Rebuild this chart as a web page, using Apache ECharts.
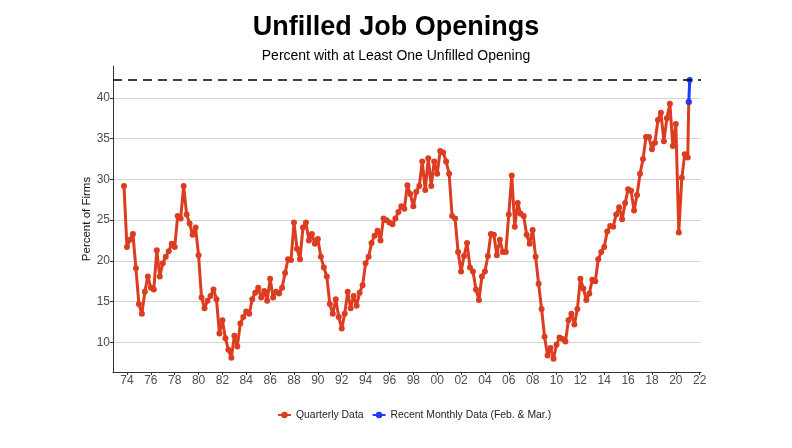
<!DOCTYPE html>
<html>
<head>
<meta charset="utf-8">
<script src="https://cdn.jsdelivr.net/npm/echarts@6/dist/echarts.min.js"></script>
<style>
html,body{margin:0;padding:0;background:#fff;}
#chart{width:792px;height:448px;}
</style>
</head>
<body>
<div id="chart"></div>
<script>
// Quarterly data starts 1973 Q4 and runs through 2021 Q1
const quarterlyStartYear = 1973;
const quarterlyStartQuarter = 4;
const quarterlyValues = [
  29.2,
  21.7, 22.6, 23.3, 19.1,
  14.7, 13.5, 16.2, 18.1,
  16.7, 16.5, 21.3, 18.1,
  19.7, 20.5, 21.2, 22.1,
  21.7, 25.5, 25.2, 29.2,
  25.7, 24.6, 23.2, 24.1,
  20.7, 15.5, 14.2, 15.1,
  15.7, 16.5, 15.3, 11.1,
  12.7, 10.5, 9.1, 8.1,
  10.8, 9.5, 12.3, 13.1,
  13.8, 13.5, 15.3, 16.1,
  16.7, 15.5, 16.3, 15.1,
  17.8, 15.5, 16.2, 16.0,
  16.7, 18.5, 20.2, 20.1,
  24.7, 21.5, 20.2, 24.1,
  24.7, 22.5, 23.3, 22.1,
  22.7, 20.5, 19.2, 18.1,
  14.7, 13.5, 15.3, 13.1,
  11.7, 13.5, 16.2, 14.2,
  15.7, 14.5, 16.1, 17.0,
  19.7, 20.5, 22.2, 23.1,
  23.7, 22.5, 25.2, 25.0,
  24.7, 24.5, 25.2, 26.0,
  26.7, 26.4, 29.3, 28.2,
  26.7, 28.5, 29.2, 32.2,
  28.7, 32.6, 29.2, 32.2,
  30.7, 33.5, 33.3, 32.2,
  30.7, 25.5, 25.2, 21.1,
  18.7, 20.6, 22.2, 19.2,
  18.7, 16.5, 15.2, 18.1,
  18.7, 20.6, 23.3, 23.2,
  20.7, 22.6, 21.1, 21.1,
  25.7, 30.5, 24.2, 27.1,
  25.8, 25.5, 23.2, 22.1,
  23.8, 20.5, 17.2, 14.1,
  10.7, 8.4, 9.3, 8.0,
  9.7, 10.6, 10.4, 10.1,
  12.7, 13.5, 12.2, 14.1,
  17.8, 16.6, 15.2, 16.0,
  17.7, 17.5, 20.2, 21.1,
  21.7, 23.6, 24.3, 24.2,
  25.7, 26.6, 25.1, 27.1,
  28.8, 28.6, 26.2, 28.1,
  30.7, 32.5, 35.2, 35.2,
  33.7, 34.5, 37.3, 38.2,
  34.7, 37.5, 39.3, 34.1,
  36.8, 23.5, 30.2, 33.1,
  32.7
];
// Recent monthly data: Feb & Mar 2021
const monthlyYear = 2021;
const monthlyMonths = [2, 3];
const monthlyValues = [39.5, 42.2];
const referenceLevel = 42.2;

const xTickYears = [1974,1976,1978,1980,1982,1984,1986,1988,1990,1992,1994,1996,1998,2000,2002,2004,2006,2008,2010,2012,2014,2016,2018,2020,2022];
const yTickValues = [10, 15, 20, 25, 30, 35, 40];

const titleText = 'Unfilled Job Openings';
const subtitleText = 'Percent with at Least One Unfilled Opening';
const yAxisName = 'Percent of Firms';
const seriesNames = ['Quarterly Data', 'Recent Monthly Data (Feb. & Mar.)'];

// build series points
const quarterlyPoints = quarterlyValues.map((v, i) => {
  const q = quarterlyStartQuarter - 1 + i;
  return [quarterlyStartYear + q / 4, v];
});
const monthlyPoints = monthlyValues.map((v, i) => [monthlyYear + (monthlyMonths[i] - 1) / 12, v]);
const redPoints = quarterlyPoints.concat([monthlyPoints[0]]);

const RED = '#dc3d20';
const BLUE = '#1a3cff';

const chart = echarts.init(document.getElementById('chart'), null, {renderer: 'canvas'});
chart.setOption({
  animation: false,
  backgroundColor: '#ffffff',
  title: [
    {text: titleText, left: 'center', top: 9,
     textStyle: {fontFamily: 'Liberation Sans', fontSize: 27, fontWeight: 'bold', color: '#000'}},
    {text: subtitleText, left: 'center', top: 44,
     textStyle: {fontFamily: 'Liberation Sans', fontSize: 14, fontWeight: 'normal', color: '#000'}}
  ],
  legend: {
    data: seriesNames,
    bottom: 23,
    left: 272,
    itemWidth: 13,
    itemHeight: 8,
    itemGap: 8,
    textStyle: {fontFamily: 'Liberation Sans', fontSize: 10.4, color: '#222'}
  },
  grid: {left: 113, right: 91, top: 66, bottom: 76},
  xAxis: {
    type: 'value',
    min: 1972.83,
    max: 2022.11,
    axisLine: {show: true, lineStyle: {color: '#333', width: 1}},
    axisTick: {show: true, length: 3, lineStyle: {color: '#333'}, customValues: xTickYears},
    axisLabel: {
      customValues: xTickYears,
      fontFamily: 'Liberation Sans', fontSize: 12, color: '#4d4d4d', margin: 3,
      formatter: v => String(Math.round(v) % 100).padStart(2, '0')
    },
    splitLine: {show: false}
  },
  yAxis: {
    type: 'value',
    min: 6.36,
    max: 43.93,
    name: yAxisName,
    nameLocation: 'middle',
    nameGap: 20,
    nameMoveOverlap: false,
    nameTextStyle: {fontFamily: 'Liberation Sans', fontSize: 11.5, color: '#111'},
    axisLine: {show: true, lineStyle: {color: '#333', width: 1}},
    axisTick: {show: true, length: 3, lineStyle: {color: '#333'}, customValues: yTickValues},
    axisLabel: {
      customValues: yTickValues,
      fontFamily: 'Liberation Sans', fontSize: 12, color: '#4d4d4d', margin: 3
    },
    splitLine: {show: true, lineStyle: {color: '#d4d4d4', width: 1}}
  },
  series: [
    {
      name: seriesNames[0],
      type: 'line',
      data: redPoints,
      symbol: 'circle',
      symbolSize: 6,
      color: RED,
      lineStyle: {color: RED, width: 3},
      itemStyle: {color: RED},
      z: 3,
      markLine: {
        silent: true,
        symbol: ['none', 'none'],
        label: {show: false},
        lineStyle: {color: '#000', type: [9, 6], width: 1.5},
        data: [{yAxis: referenceLevel}]
      }
    },
    {
      name: seriesNames[1],
      type: 'line',
      data: monthlyPoints,
      symbol: 'circle',
      symbolSize: 6,
      color: BLUE,
      lineStyle: {color: BLUE, width: 3},
      itemStyle: {color: BLUE},
      z: 4
    }
  ]
});
</script>
</body>
</html>
